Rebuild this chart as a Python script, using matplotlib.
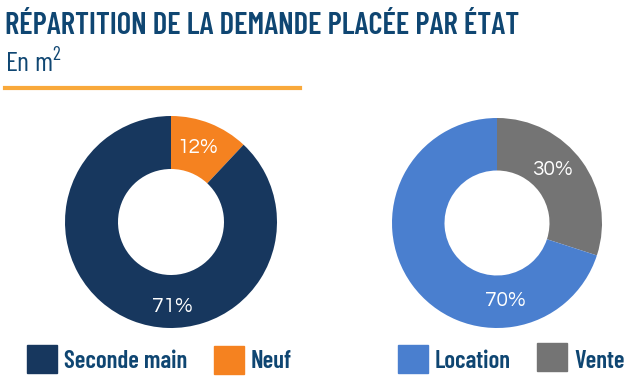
import matplotlib
matplotlib.use("Agg")
import matplotlib.pyplot as plt
from matplotlib.patches import Rectangle

# ---- data ----
left_categories = ["Neuf", "Seconde main"]
left_values = [12, 88]
left_labels = ["12%", "71%"]
right_categories = ["Vente", "Location"]
right_values = [30, 70]
right_labels = ["30%", "70%"]
legend_left = ["Seconde main", "Neuf"]
legend_right = ["Location", "Vente"]

# ---- style ----
W, H = 630, 379
NAVY = "#17375e"
ORANGE = "#f58220"
BLUE = "#4a7fcf"
GRAY = "#747474"
TXT = "#0f4672"
COND = "Barlow Condensed"

fig = plt.figure(figsize=(W / 100, H / 100), dpi=100)
fig.patch.set_facecolor("white")

def fx(x):
    return x / W

def fy(y):
    return 1 - y / H

fig.text(fx(5), fy(34), "RÉPARTITION DE LA DEMANDE PLACÉE PAR ÉTAT", family=COND,
         weight=600, size=22.2, color=TXT, ha="left", va="baseline")
fig.text(fx(5), fy(71), r"En m$^{\mathregular{2}}$", family=COND, weight=400, size=20,
         color=TXT, ha="left", va="baseline")
fig.add_artist(plt.Line2D([fx(5), fx(300)], [fy(88), fy(88)], color="#f9a93b",
                          lw=3, transform=fig.transFigure))

def donut(cx, cy, r, values, colors, labels, label_pos):
    ax = fig.add_axes([fx(cx - r), fy(cy + r), 2 * r / W, 2 * r / H])
    ax.pie(values, colors=colors, startangle=90, counterclock=False, radius=1,
           wedgeprops=dict(width=0.5, linewidth=0))
    ax.set_xlim(-1, 1)
    ax.set_ylim(-1, 1)
    ax.set_aspect("equal")
    ax.axis("off")
    for lab, (px, py) in zip(labels, label_pos):
        ax.text(px, py, lab, color="white", size=15, family="Questrial",
                ha="center", va="center", zorder=5)
    return ax

donut(171, 222, 106, left_values, [ORANGE, NAVY], left_labels,
      [(0.25, 0.70), (0.01, -0.80)])
donut(497, 223, 105, right_values, [GRAY, BLUE], right_labels,
      [(0.53, 0.51), (0.08, -0.74)])

# legend
leg_items = [(legend_left[0], NAVY, 27, 373), (legend_left[1], ORANGE, 214, 374),
             (legend_right[0], BLUE, 398, 373), (legend_right[1], GRAY, 537, 371)]
for text, col, x0, ybot in leg_items:
    fig.add_artist(Rectangle((fx(x0), fy(ybot)), 30 / W, 28 / H, color=col,
                             transform=fig.transFigure))
    fig.text(fx(x0 + 37), fy(368), text, family=COND, weight=600, size=17.8,
             color=TXT, ha="left", va="baseline")

fig.savefig("out.png", dpi=100, facecolor="white")
